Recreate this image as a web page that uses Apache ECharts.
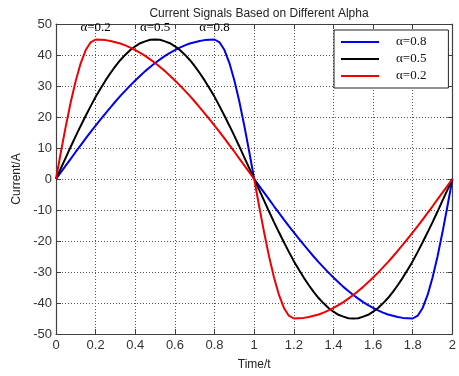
<!DOCTYPE html>
<html>
<head>
<meta charset="utf-8">
<script src="https://cdn.jsdelivr.net/npm/echarts@6/dist/echarts.min.js"></script>
<style>
  html, body { margin: 0; padding: 0; background: #fff; }
  #main { width: 459px; height: 376px; }
</style>
</head>
<body>
<div id="main"></div>
<script>
// 时间轴 (Time/t)
var time = [0, 0.025, 0.05, 0.075, 0.1, 0.125, 0.15, 0.175, 0.2, 0.225, 0.25, 0.275, 0.3, 0.325, 0.35, 0.375,
  0.4, 0.425, 0.45, 0.475, 0.5, 0.525, 0.55, 0.575, 0.6, 0.625, 0.65, 0.675, 0.7, 0.725, 0.75, 0.775,
  0.8, 0.825, 0.85, 0.875, 0.9, 0.925, 0.95, 0.975, 1, 1.025, 1.05, 1.075, 1.1, 1.125, 1.15, 1.175,
  1.2, 1.225, 1.25, 1.275, 1.3, 1.325, 1.35, 1.375, 1.4, 1.425, 1.45, 1.475, 1.5, 1.525, 1.55, 1.575,
  1.6, 1.625, 1.65, 1.675, 1.7, 1.725, 1.75, 1.775, 1.8, 1.825, 1.85, 1.875, 1.9, 1.925, 1.95, 1.975, 2];

// α=0.8
var alpha08 = [0, 2.2, 4.4, 6.6, 8.8, 10.9, 13.1, 15.2, 17.2, 19.2, 21.2, 23.1, 25.0, 26.8, 28.5, 30.2,
  31.8, 33.3, 34.8, 36.1, 37.4, 38.6, 39.7, 40.7, 41.6, 42.4, 43.1, 43.7, 44.1, 44.5, 44.8, 44.9,
  45, 44.1, 41.6, 37.4, 31.8, 25.0, 17.2, 8.8, 0,
  -2.2, -4.4, -6.6, -8.8, -10.9, -13.1, -15.2, -17.2, -19.2, -21.2, -23.1, -25.0, -26.8, -28.5, -30.2,
  -31.8, -33.3, -34.8, -36.1, -37.4, -38.6, -39.7, -40.7, -41.6, -42.4, -43.1, -43.7, -44.1, -44.5, -44.8, -44.9,
  -45, -44.1, -41.6, -37.4, -31.8, -25.0, -17.2, -8.8, 0];

// α=0.5
var alpha05 = [0, 3.5, 7.0, 10.5, 13.9, 17.2, 20.4, 23.5, 26.5, 29.2, 31.8, 34.2, 36.4, 38.4, 40.1, 41.6,
  42.8, 43.8, 44.4, 44.9, 45, 44.9, 44.4, 43.8, 42.8, 41.6, 40.1, 38.4, 36.4, 34.2, 31.8, 29.2,
  26.5, 23.5, 20.4, 17.2, 13.9, 10.5, 7.0, 3.5, 0,
  -3.5, -7.0, -10.5, -13.9, -17.2, -20.4, -23.5, -26.5, -29.2, -31.8, -34.2, -36.4, -38.4, -40.1, -41.6,
  -42.8, -43.8, -44.4, -44.9, -45, -44.9, -44.4, -43.8, -42.8, -41.6, -40.1, -38.4, -36.4, -34.2, -31.8, -29.2,
  -26.5, -23.5, -20.4, -17.2, -13.9, -10.5, -7.0, -3.5, 0];

// α=0.2
var alpha02 = [0, 8.8, 17.2, 25.0, 31.8, 37.4, 41.6, 44.1, 45, 44.9, 44.8, 44.5, 44.1, 43.7, 43.1, 42.4,
  41.6, 40.7, 39.7, 38.6, 37.4, 36.1, 34.8, 33.3, 31.8, 30.2, 28.5, 26.8, 25.0, 23.1, 21.2, 19.2,
  17.2, 15.2, 13.1, 10.9, 8.8, 6.6, 4.4, 2.2, 0,
  -8.8, -17.2, -25.0, -31.8, -37.4, -41.6, -44.1, -45, -44.9, -44.8, -44.5, -44.1, -43.7, -43.1, -42.4,
  -41.6, -40.7, -39.7, -38.6, -37.4, -36.1, -34.8, -33.3, -31.8, -30.2, -28.5, -26.8, -25.0, -23.1, -21.2, -19.2,
  -17.2, -15.2, -13.1, -10.9, -8.8, -6.6, -4.4, -2.2, 0];

var names = ['α=0.8', 'α=0.5', 'α=0.2'];
var alphas = [0.8, 0.5, 0.2];
var colors = ['#0000f0', '#000000', '#f00000'];
var values = [alpha08, alpha05, alpha02];

var axisColor = '#404040';
var sans = '"Liberation Sans", Arial, sans-serif';
var serif = '"Liberation Serif", "Times New Roman", serif';

var series = values.map(function (vals, i) {
  return {
    name: names[i],
    type: 'line',
    symbol: 'none',
    smooth: false,
    lineStyle: { width: 2, color: colors[i] },
    itemStyle: { color: colors[i] },
    data: time.map(function (t, k) { return [t, vals[k]]; }),
    // 峰值上方的标注
    markPoint: {
      symbol: 'circle',
      symbolSize: 0,
      silent: true,
      label: {
        show: true,
        position: 'inside',
        offset: [0, -12],
        formatter: names[i],
        color: '#000',
        fontFamily: serif,
        fontSize: 13
      },
      data: [{ coord: [alphas[i], 45] }]
    }
  };
});

var myChart = echarts.init(document.getElementById('main'), null, { renderer: 'canvas' });

var xBase = {
  type: 'value', min: 0, max: 2, interval: 0.2,
  axisLine: { show: true, onZero: false, lineStyle: { color: axisColor, width: 1.2 } },
  axisTick: { show: true, inside: true, length: 5, lineStyle: { color: axisColor } }
};
var yBase = {
  type: 'value', min: -50, max: 50, interval: 10,
  axisLine: { show: true, onZero: false, lineStyle: { color: axisColor, width: 1.2 } },
  axisTick: { show: true, inside: true, length: 5, lineStyle: { color: axisColor } }
};

myChart.setOption({
  animation: false,
  backgroundColor: '#fff',
  title: {
    text: 'Current Signals Based on Different Alpha',
    left: 254,
    top: 3,
    textAlign: 'center',
    textStyle: { fontFamily: sans, fontSize: 12, fontWeight: 'normal', color: '#222' }
  },
  legend: {
    orient: 'vertical',
    left: 334,
    top: 30,
    data: names,
    icon: 'rect',
    itemWidth: 38,
    itemHeight: 2,
    itemGap: 3,
    padding: [5, 22, 5, 7],
    backgroundColor: '#fff',
    borderColor: '#222',
    borderWidth: 1,
    textStyle: { fontFamily: serif, fontSize: 13, color: '#111', padding: [0, 0, 0, 12], lineHeight: 14 }
  },
  grid: { left: 56, right: 6, top: 24, bottom: 38 },
  xAxis: [
    Object.assign({}, xBase, {
      position: 'bottom',
      name: 'Time/t',
      nameLocation: 'middle',
      nameGap: 25,
      nameTextStyle: { fontFamily: sans, fontSize: 12, color: '#222' },
      axisLabel: { fontFamily: sans, fontSize: 13, color: '#333', margin: 5 },
      splitLine: { show: true, lineStyle: { color: '#555', type: [1, 2], width: 1 } }
    }),
    Object.assign({}, xBase, {
      position: 'top',
      axisLabel: { show: false },
      splitLine: { show: false }
    })
  ],
  yAxis: [
    Object.assign({}, yBase, {
      position: 'left',
      name: 'Current/A',
      nameLocation: 'middle',
      nameGap: 32,
      nameTextStyle: { fontFamily: sans, fontSize: 12, color: '#222' },
      axisLabel: { fontFamily: sans, fontSize: 13, color: '#333', margin: 4 },
      splitLine: { show: true, lineStyle: { color: '#555', type: [1, 2], width: 1 } }
    }),
    Object.assign({}, yBase, {
      position: 'right',
      axisLabel: { show: false },
      splitLine: { show: false }
    })
  ],
  series: series
});
</script>
</body>
</html>
